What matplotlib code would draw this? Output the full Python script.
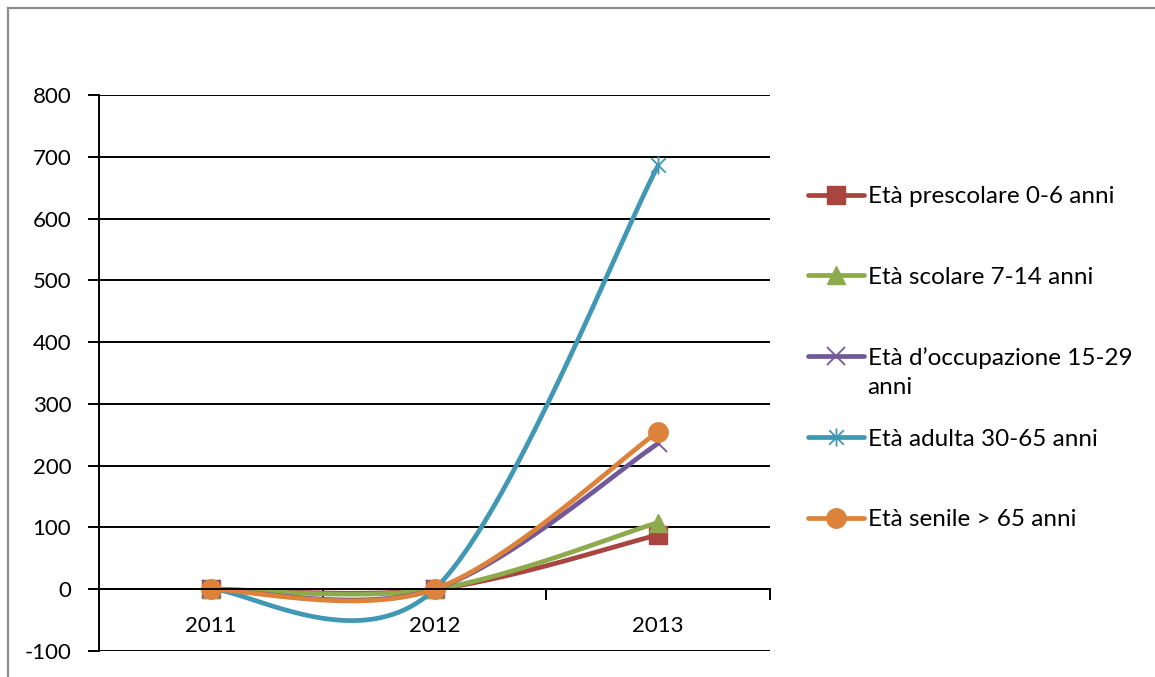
import numpy as np
import matplotlib
matplotlib.use('Agg')
import matplotlib.pyplot as plt
from matplotlib.path import Path
from matplotlib.patches import Rectangle

plt.rcParams['font.family'] = ['Lato', 'DejaVu Sans']
plt.rcParams['axes.unicode_minus'] = False

# ===== データ =====
anni = ['2011', '2012', '2013']
prescolare  = [0, 0, 88]
scolare     = [0, 0, 108]
occupazione = [0, 0, 236]
adulta      = [0, 0, 686]
senile      = [0, 0, 255]

serie = [
    ('Età prescolare 0-6 anni',    prescolare,  '#A9443F', 's'),
    ('Età scolare 7-14 anni',      scolare,     '#8DAA4C', '^'),
    ('Età d’occupazione 15-29',    occupazione, '#71589A', 'x'),
    ('Età adulta 30-65 anni',      adulta,      '#4198B5', 'star'),
    ('Età senile > 65 anni',       senile,      '#DD823B', 'o'),
]

# asterisco stile Excel (verticale + X)
star = Path([(0, -1), (0, 1), (-0.8, -0.8), (0.8, 0.8), (-0.8, 0.8), (0.8, -0.8)],
            [Path.MOVETO, Path.LINETO] * 3)


def smooth(xs, ys, n=40):
    # curva Bezier tipo Excel (Catmull-Rom, tensione 1/6)
    px = [xs[0]] + list(xs) + [xs[-1]]
    py = [ys[0]] + list(ys) + [ys[-1]]
    ox, oy = [xs[0]], [ys[0]]
    t = np.linspace(0, 1, n + 1)[1:]
    for i in range(1, len(xs)):
        x0, x1, x2, x3 = px[i - 1], px[i], px[i + 1], px[i + 2]
        y0, y1, y2, y3 = py[i - 1], py[i], py[i + 1], py[i + 2]
        cx1, cy1 = x1 + (x2 - x0) / 6, y1 + (y2 - y0) / 6
        cx2, cy2 = x2 - (x3 - x1) / 6, y2 - (y3 - y1) / 6
        b0, b1, b2, b3 = (1 - t) ** 3, 3 * (1 - t) ** 2 * t, 3 * (1 - t) * t ** 2, t ** 3
        ox += list(b0 * x1 + b1 * cx1 + b2 * cx2 + b3 * x2)
        oy += list(b0 * y1 + b1 * cy1 + b2 * cy2 + b3 * y2)
    return np.array(ox), np.array(oy), list(range(0, len(ox), n))


fig = plt.figure(figsize=(11.55, 6.77), dpi=100)
ax = fig.add_axes([99 / 1155, 1 - 651 / 677, (770 - 99) / 1155, (651 - 95) / 677])

xpos = np.arange(1, len(anni) + 1)
for label, vals, color, mk in serie:
    sx, sy, idx = smooth(xpos, vals)
    if mk in ('star', 'x'):
        ax.plot(sx, sy, color=color, lw=3.4, marker=star if mk == 'star' else 'x',
                markevery=idx, ms=13, mec=color, mew=1.3, label=label,
                solid_capstyle='round')
    else:
        ax.plot(sx, sy, color=color, lw=3.4, marker=mk, markevery=idx,
                ms=14 if mk == 'o' else 13, mec=color, mfc=color, label=label,
                solid_capstyle='round')

ax.set_xlim(0.5, 3.5)
ax.set_ylim(-100, 800)
ax.set_yticks(np.arange(-100, 801, 100))
ax.yaxis.grid(True, color='black', lw=1.4)
ax.set_axisbelow(True)
ax.tick_params(axis='y', length=8, width=1.4, pad=12, labelsize=16, direction='out')

# asse categorie sullo zero
ax.spines['bottom'].set_position(('data', 0))
ax.spines['bottom'].set_linewidth(1.4)
ax.spines['left'].set_linewidth(1.4)
ax.spines['top'].set_visible(False)
ax.spines['right'].set_visible(False)
ax.set_xticks([0.5, 1.5, 2.5, 3.5])
ax.set_xticklabels([])
ax.set_xticks(xpos, minor=True)
ax.set_xticklabels(anni, minor=True)
ax.tick_params(axis='x', which='major', length=8, width=1.4, direction='out')
ax.tick_params(axis='x', which='minor', length=0, pad=19, labelsize=16)

leg = ax.legend(loc='upper left', bbox_to_anchor=(808 / 1155, 1 - 186 / 677),
                bbox_transform=fig.transFigure, frameon=False, fontsize=17.5,
                handlelength=2.3, handletextpad=0.15, borderpad=0, borderaxespad=0,
                labelspacing=2.45)
# seconda riga della voce 3 (disegnata dopo la legenda)
ax.annotate('anni', xy=(0, 0.5), xycoords=leg.get_texts()[2],
            xytext=(0, -21.5), textcoords='offset points',
            ha='left', va='center', fontsize=17.5, zorder=6, annotation_clip=False)

# cornice grigia
fig.add_artist(Rectangle((8 / 1155, -0.1), 1.2, 1.1 - 8 / 677, transform=fig.transFigure,
                         fill=False, edgecolor='#8c8c8c', lw=1.6))

fig.savefig('out.png', dpi=100)
